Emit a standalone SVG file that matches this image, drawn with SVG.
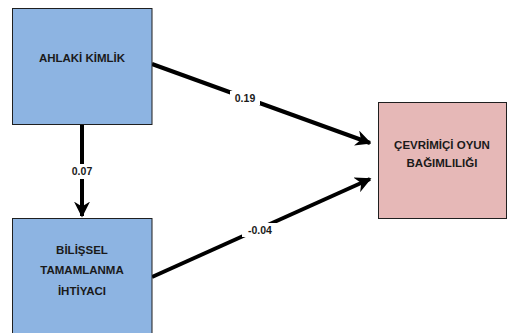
<svg xmlns="http://www.w3.org/2000/svg" width="507" height="333" viewBox="0 0 507 333">
<style>
.box{stroke:#1f1f1f;stroke-width:1}
.blue{fill:#8db4e2}
.pink{fill:#e6b8b7}
.t{font-family:"Liberation Sans",Arial,sans-serif;font-weight:bold;font-size:11.5px;fill:#1a1a1a;text-anchor:middle}
.lbl{font-family:"Liberation Sans",Arial,sans-serif;font-weight:bold;font-size:10.5px;fill:#1a1a1a;text-anchor:middle}
.c{stroke:#000;stroke-width:4;fill:none}
</style>
<defs>
<marker id="ah" viewBox="0 0 10 10" refX="9" refY="5" markerWidth="4" markerHeight="4" orient="auto" markerUnits="strokeWidth">
<path d="M0,0 L10,5 L0,10 L3,5 Z" fill="#000"/>
</marker>
</defs>
<rect width="507" height="333" fill="#fff"/>
<g id="connectors">
<line class="c" x1="152" y1="64" x2="370" y2="143" marker-end="url(#ah)"/>
<line class="c" x1="152" y1="277" x2="370" y2="179" marker-end="url(#ah)"/>
<line class="c" x1="82" y1="125" x2="82" y2="216" marker-end="url(#ah)"/>
<rect x="230" y="91" width="30" height="14" fill="#fff"/>
<text class="lbl" x="245" y="102">0.19</text>
<rect x="242" y="223" width="36" height="14" fill="#fff"/>
<text class="lbl" x="260" y="234">-0.04</text>
<rect x="67" y="164" width="30" height="15" fill="#fff"/>
<text class="lbl" x="82" y="175">0.07</text>
</g>
<g id="ahlaki">
<rect class="box blue" x="12.5" y="8.5" width="139.5" height="116"/>
<text class="t" x="82" y="62">AHLAKİ KİMLİK</text>
</g>
<g id="bilissel">
<rect class="box blue" x="12.5" y="218.5" width="139.5" height="120"/>
<text class="t" x="82" y="254">BİLİŞSEL</text>
<text class="t" x="82" y="274">TAMAMLANMA</text>
<text class="t" x="82" y="295">İHTİYACI</text>
</g>
<g id="cevrimici">
<rect class="box pink" x="378.5" y="102.5" width="128" height="116"/>
<text class="t" x="442" y="149">ÇEVRİMİÇİ OYUN</text>
<text class="t" x="442" y="167">BAĞIMLILIĞI</text>
</g>
</svg>
